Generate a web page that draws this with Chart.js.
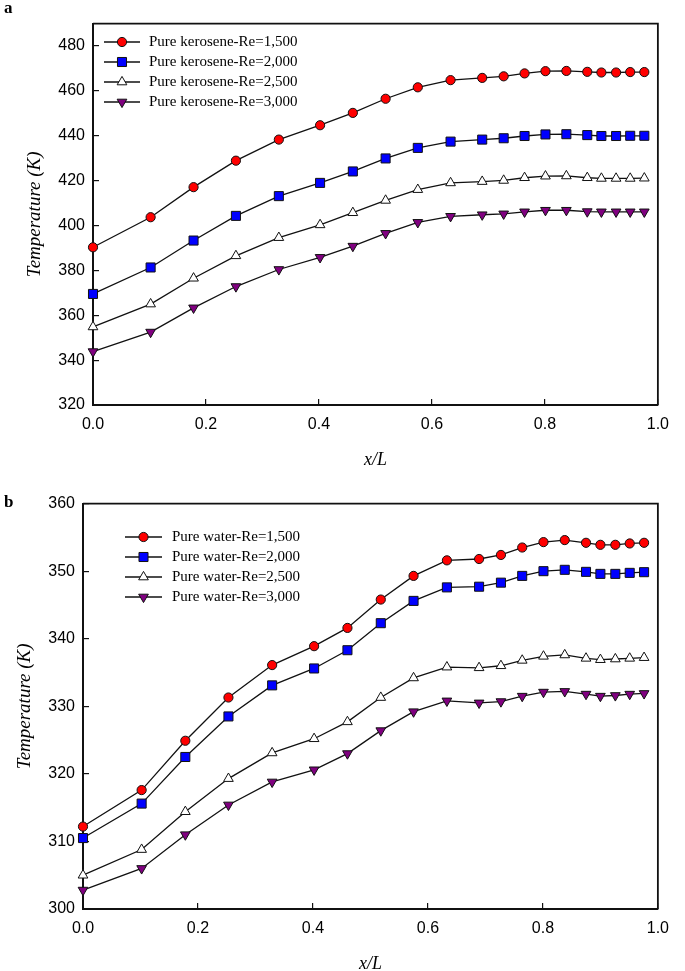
<!DOCTYPE html>
<html>
<head>
<meta charset="utf-8">
<script src="https://cdn.jsdelivr.net/npm/chart.js@4.4.1/dist/chart.umd.min.js"></script>
<style>
  html, body { margin: 0; padding: 0; background: #fff; }
  body { width: 685px; height: 971px; overflow: hidden; }
  canvas { display: block; }
</style>
</head>
<body>
<canvas id="chartA" width="685" height="480"></canvas>
<canvas id="chartB" width="685" height="491"></canvas>
<script>
// x/L stations, same for both panels
const xStations = [0.0, 0.102, 0.178, 0.253, 0.329, 0.402, 0.460, 0.518, 0.575, 0.633, 0.689, 0.727, 0.764, 0.801, 0.838, 0.875, 0.900, 0.926, 0.951, 0.976];

// panel a - pure kerosene, temperature (K)
const keroRe1500 = [390.3, 403.7, 417.1, 428.9, 438.3, 444.7, 450.2, 456.5, 461.6, 464.8, 465.8, 466.5, 467.8, 468.8, 468.9, 468.5, 468.2, 468.2, 468.4, 468.4];
const keroRe2000 = [369.5, 381.3, 393.3, 404.3, 413.1, 419.0, 424.1, 429.9, 434.6, 437.4, 438.3, 438.9, 439.9, 440.6, 440.7, 440.3, 439.9, 439.9, 440.0, 440.0];
const keroRe2500 = [354.8, 365.0, 376.5, 386.5, 394.6, 400.3, 405.7, 411.2, 416.0, 419.0, 419.6, 420.1, 421.3, 422.0, 422.1, 421.3, 421.0, 421.0, 421.0, 421.1];
const keroRe3000 = [343.8, 352.5, 363.3, 372.8, 380.4, 385.8, 390.8, 396.5, 401.4, 404.1, 404.8, 405.2, 406.1, 406.8, 406.8, 406.2, 406.1, 406.1, 406.1, 406.1];

// panel b - pure water, temperature (K)
const waterRe1500 = [312.2, 317.6, 324.9, 331.3, 336.1, 338.9, 341.6, 345.8, 349.3, 351.6, 351.8, 352.4, 353.5, 354.3, 354.6, 354.2, 353.9, 353.9, 354.1, 354.2];
const waterRe2000 = [310.5, 315.6, 322.5, 328.5, 333.1, 335.6, 338.3, 342.3, 345.6, 347.6, 347.7, 348.3, 349.3, 350.0, 350.2, 349.9, 349.6, 349.6, 349.75, 349.85];
const waterRe2500 = [305.0, 308.8, 314.4, 319.3, 323.1, 325.2, 327.7, 331.3, 334.2, 335.8, 335.7, 336.0, 336.8, 337.4, 337.6, 337.1, 336.9, 337.0, 337.1, 337.2];
const waterRe3000 = [302.8, 306.0, 311.0, 315.4, 318.8, 320.6, 323.0, 326.4, 329.2, 330.8, 330.5, 330.7, 331.5, 332.1, 332.2, 331.8, 331.5, 331.6, 331.8, 331.9];

const keroLabels = ['Pure kerosene-Re=1,500', 'Pure kerosene-Re=2,000', 'Pure kerosene-Re=2,500', 'Pure kerosene-Re=3,000'];
const waterLabels = ['Pure water-Re=1,500', 'Pure water-Re=2,000', 'Pure water-Re=2,500', 'Pure water-Re=3,000'];

const xTicks = [0.0, 0.2, 0.4, 0.6, 0.8, 1.0];
const keroTicks = [320, 340, 360, 380, 400, 420, 440, 460, 480];
const waterTicks = [300, 310, 320, 330, 340, 350, 360];

// marker look for the four Re series
const markers = [
    { pointStyle: 'circle',   pointRadius: 4.6, pointRotation: 0,   pointBackgroundColor: '#ff0000' },
    { pointStyle: 'rect',     pointRadius: 6.4, pointRotation: 0,   pointBackgroundColor: '#0000ff' },
    { pointStyle: 'triangle', pointRadius: 5.6, pointRotation: 0,   pointBackgroundColor: '#ffffff' },
    { pointStyle: 'triangle', pointRadius: 5.6, pointRotation: 180, pointBackgroundColor: '#800080' }
];

const sansFont = '"Liberation Sans", Arial, sans-serif';
const serifFont = '"Liberation Serif", "Times New Roman", serif';

// top + right frame lines
const framePlugin = {
    id: 'frame',
    afterDraw(chart) {
        const { ctx, chartArea: a } = chart;
        ctx.save();
        ctx.strokeStyle = '#111';
        ctx.lineWidth = 1.8;
        ctx.beginPath();
        ctx.moveTo(a.left, a.top);
        ctx.lineTo(a.right, a.top);
        ctx.lineTo(a.right, a.bottom);
        ctx.stroke();
        ctx.restore();
    }
};

// legend sitting inside the plot area
const insideLegend = {
    id: 'insideLegend',
    afterDraw(chart, args, opts) {
        const ctx = chart.ctx;
        ctx.save();
        ctx.font = '15px ' + serifFont;
        ctx.textBaseline = 'middle';
        ctx.textAlign = 'left';
        chart.data.datasets.forEach((ds, i) => {
            const y = opts.y + i * opts.rowH;
            ctx.strokeStyle = ds.borderColor;
            ctx.lineWidth = ds.borderWidth;
            ctx.beginPath();
            ctx.moveTo(opts.x, y);
            ctx.lineTo(opts.x + opts.lineLen, y);
            ctx.stroke();

            ctx.fillStyle = ds.pointBackgroundColor;
            ctx.strokeStyle = ds.pointBorderColor;
            ctx.lineWidth = ds.pointBorderWidth;
            Chart.helpers.drawPoint(ctx, {
                pointStyle: ds.pointStyle,
                radius: ds.pointRadius,
                rotation: ds.pointRotation,
                borderWidth: ds.pointBorderWidth
            }, opts.x + opts.lineLen / 2, y);

            ctx.fillStyle = '#000';
            ctx.fillText(ds.label, opts.x + opts.lineLen + opts.gap, y);
        });
        ctx.restore();
    }
};

// panel letter (a / b)
const panelTag = {
    id: 'panelTag',
    afterDraw(chart, args, opts) {
        const ctx = chart.ctx;
        ctx.save();
        ctx.font = 'bold 17px ' + serifFont;
        ctx.fillStyle = '#000';
        ctx.textBaseline = 'middle';
        ctx.fillText(opts.text, opts.x, opts.y);
        ctx.restore();
    }
};

function makeDatasets(labels, series) {
    return series.map((vals, i) => ({
        label: labels[i],
        data: vals.map((v, j) => ({ x: xStations[j], y: v })),
        borderColor: '#111',
        borderWidth: 1.3,
        tension: 0,
        pointBorderColor: '#111',
        pointBorderWidth: 1,
        pointHoverRadius: markers[i].pointRadius,
        clip: false,
        ...markers[i]
    }));
}

function makeChart(id, cfg) {
    const ctx = document.getElementById(id).getContext('2d');
    return new Chart(ctx, {
        type: 'line',
        data: { datasets: makeDatasets(cfg.labels, cfg.series) },
        options: {
            responsive: false,
            animation: false,
            events: [],
            layout: { padding: { left: 0, top: cfg.top, right: cfg.right, bottom: 0 } },
            plugins: {
                legend: { display: false },
                tooltip: { enabled: false },
                insideLegend: cfg.legend,
                panelTag: cfg.tag
            },
            scales: {
                x: {
                    type: 'linear',
                    min: 0,
                    max: 1,
                    afterBuildTicks: s => { s.ticks = xTicks.map(v => ({ value: v })); },
                    afterFit: s => { s.height = cfg.xHeight; },
                    grid: { drawOnChartArea: false, drawTicks: true, tickLength: -6, color: '#111', lineWidth: 1.2 },
                    border: { display: true, color: '#111', width: 2 },
                    ticks: {
                        padding: 16,
                        color: '#000',
                        font: { family: sansFont, size: 16 },
                        maxRotation: 0,
                        callback: v => v.toFixed(1)
                    },
                    title: {
                        display: true,
                        text: 'x/L',
                        color: '#000',
                        font: { family: serifFont, size: 18, style: 'italic' },
                        padding: { top: 0, bottom: cfg.xTitlePad }
                    }
                },
                y: {
                    type: 'linear',
                    min: cfg.yMin,
                    max: cfg.yMax,
                    afterBuildTicks: s => { s.ticks = cfg.yTicks.map(v => ({ value: v })); },
                    afterFit: s => { s.width = cfg.yWidth; },
                    grid: { drawOnChartArea: false, drawTicks: true, tickLength: -6, color: '#111', lineWidth: 1.2 },
                    border: { display: true, color: '#111', width: 2 },
                    ticks: {
                        padding: 14,
                        color: '#000',
                        font: { family: sansFont, size: 16 }
                    },
                    title: {
                        display: true,
                        text: 'Temperature (K)',
                        color: '#000',
                        font: { family: serifFont, size: 19, style: 'italic' },
                        padding: { top: cfg.yTitlePad, bottom: 0 }
                    }
                }
            }
        },
        plugins: [framePlugin, insideLegend, panelTag]
    });
}

makeChart('chartA', {
    labels: keroLabels,
    series: [keroRe1500, keroRe2000, keroRe2500, keroRe3000],
    yMin: 320, yMax: 490, yTicks: keroTicks,
    top: 6, right: 22, yWidth: 93, xHeight: 75,
    xTitlePad: 9, yTitlePad: 24,
    legend: { x: 104, y: 42, lineLen: 36, gap: 9, rowH: 20 },
    tag: { text: 'a', x: 4, y: 9 }
});

makeChart('chartB', {
    labels: waterLabels,
    series: [waterRe1500, waterRe2000, waterRe2500, waterRe3000],
    yMin: 300, yMax: 360, yTicks: waterTicks,
    top: 20, right: 11, yWidth: 83, xHeight: 62,
    xTitlePad: -4, yTitlePad: 14,
    legend: { x: 125, y: 57, lineLen: 37, gap: 10, rowH: 20 },
    tag: { text: 'b', x: 4, y: 23 }
});
</script>
</body>
</html>
